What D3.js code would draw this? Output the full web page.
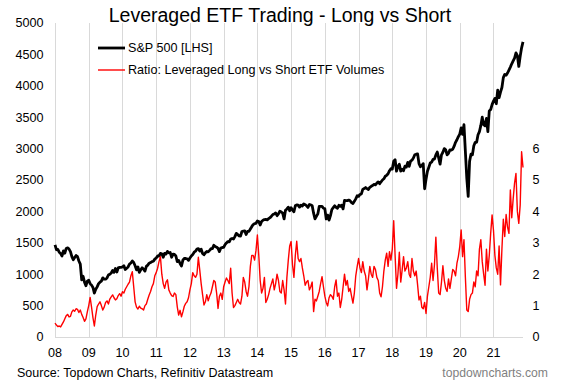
<!DOCTYPE html>
<html lang="en">
<head>
  <meta charset="UTF-8">
  <title>Leveraged ETF Trading - Long vs Short</title>
  <script src="https://d3js.org/d3.v7.min.js"></script>
  <style>
    body {
      margin: 0;
      background: white;
      font-family: "Liberation Sans", Arial, sans-serif;
    }
    svg { display: block; }
    .grid { stroke: #d9d9d9; stroke-width: 1; shape-rendering: crispEdges; }
    .tick-label { font-size: 12.6px; fill: #000; }
  </style>
</head>
<body>
  <svg id="chart"></svg>
  <script>
    // half-monthly readings, starting Jan 2008
    const startYear = 2008;
    const perYear = 24;

    const years = [2008, 2009, 2010, 2011, 2012, 2013, 2014, 2015, 2016, 2017, 2018, 2019, 2020, 2021];
    const yearLabels = ["08", "09", "10", "11", "12", "13", "14", "15", "16", "17", "18", "19", "20", "21"];
    const leftTicks = [0, 500, 1000, 1500, 2000, 2500, 3000, 3500, 4000, 4500, 5000];
    const rightTicks = [0, 1, 2, 3, 4, 5, 6];

    const spx = [
      1468,1390,1395,1350,1330,1290,1370,1335,1410,1420,1400,1360,1280,1230,1265,1298,1280,1210,1160,910,968,873,816,890,
      903,850,826,790,700,760,798,850,873,890,942,920,920,940,987,1000,1020,1060,1030,1090,1036,1100,1108,1110,
      1115,1136,1074,1095,1115,1160,1178,1210,1187,1135,1070,1115,1030,1070,1102,1080,1049,1125,1145,1175,1185,1200,1206,1240,
      1258,1290,1287,1330,1325,1270,1332,1320,1364,1340,1345,1270,1320,1315,1290,1200,1220,1170,1131,1225,1253,1250,1245,1220,
      1258,1290,1312,1350,1366,1400,1408,1370,1398,1330,1310,1340,1362,1355,1379,1405,1407,1460,1441,1430,1412,1360,1416,1425,
      1426,1470,1498,1520,1515,1560,1569,1560,1598,1650,1631,1610,1606,1680,1686,1690,1633,1680,1682,1720,1757,1790,1806,1810,
      1848,1840,1783,1840,1859,1870,1872,1865,1884,1900,1924,1950,1960,1975,1931,1960,2003,1990,1972,1880,2018,2040,2068,2010,
      2059,2020,1995,2090,2105,2100,2068,2100,2086,2120,2107,2090,2063,2110,2104,2090,1972,1880,1920,1960,2079,2080,2080,2050,
      2044,1880,1940,1860,1932,2030,2060,2090,2065,2050,2097,2080,2099,2040,2174,2170,2171,2180,2168,2140,2126,2160,2199,2250,
      2239,2270,2279,2350,2364,2380,2363,2350,2384,2400,2412,2430,2423,2450,2470,2440,2472,2500,2519,2560,2575,2600,2648,2680,
      2674,2800,2824,2640,2714,2750,2641,2670,2648,2720,2705,2780,2718,2800,2816,2850,2902,2910,2914,2760,2712,2730,2760,2360,
      2510,2640,2704,2770,2784,2830,2834,2900,2946,2850,2752,2900,2942,3000,2980,2900,2926,2980,2977,2990,3038,3100,3141,3190,
      3231,3330,3226,3380,2954,2530,2240,2800,2912,2900,3044,3100,3100,3220,3271,3370,3500,3380,3363,3480,3270,3600,3622,3700,
      3756,3800,3714,3930,3811,3900,3973,4130,4181,4170,4204,4250,4298,4350,4395,4440,4523,4480,4308,4470,4605,4700
    ];

    const ratio = [
      .44,.38,.33,.35,.32,.40,.48,.58,.68,.72,.64,.66,.80,.86,.82,.90,.88,.78,.86,.72,.62,.50,.58,.80,
      1.0,1.26,.95,.62,.35,.70,.97,1.05,1.12,1.0,.86,.95,1.10,1.15,1.05,1.21,1.28,1.34,1.25,1.18,1.22,1.32,1.38,1.30,
      1.44,1.40,1.52,1.60,1.68,1.75,1.95,2.08,1.60,1.12,.95,.89,.98,.92,.90,.86,1.0,1.05,1.20,1.34,1.45,1.60,1.70,1.95,
      2.05,2.19,2.40,2.56,2.0,1.70,1.55,1.75,1.82,1.50,1.40,1.32,1.29,1.40,1.35,.96,.70,.85,.64,.80,.98,1.07,1.12,1.25,
      1.50,1.70,2.05,1.95,1.90,2.0,2.54,2.13,1.70,1.35,1.02,1.12,1.35,1.15,1.30,1.40,1.60,1.80,1.75,1.40,.91,1.30,1.40,1.20,
      1.60,1.75,1.88,1.80,1.70,2.19,1.40,.94,1.00,1.10,1.20,1.10,1.05,1.30,1.90,1.75,1.45,1.30,1.60,2.25,2.60,2.60,2.45,2.75,
      3.25,2.60,1.80,1.40,1.55,1.90,1.10,1.20,1.35,1.55,1.70,1.85,1.50,1.70,2.00,1.80,1.45,1.40,1.80,1.50,1.05,1.90,2.45,2.90,
      3.04,2.30,1.90,2.60,3.05,2.50,2.40,2.50,2.20,1.95,1.65,1.75,1.80,1.50,1.60,1.75,.81,1.20,1.15,1.30,1.45,1.70,1.92,1.60,
      1.30,1.10,.99,1.25,1.35,1.30,1.20,1.60,1.82,1.30,1.40,.94,1.20,1.60,2.00,1.65,1.80,1.45,1.55,1.30,1.08,1.40,1.95,2.24,
      2.50,2.20,2.05,2.40,2.10,1.95,1.50,1.85,2.25,2.00,1.90,2.25,2.15,1.90,1.80,1.40,1.28,1.60,2.10,2.45,2.67,2.25,2.72,2.45,
      2.80,3.70,2.60,1.55,2.00,2.70,1.75,2.13,2.56,2.10,2.20,2.40,2.00,1.90,2.50,2.10,1.95,2.10,1.66,1.18,1.30,.95,.90,1.10,
      .75,1.30,1.60,1.90,2.35,1.80,2.30,3.18,2.20,1.40,1.35,1.75,2.27,1.80,1.55,1.45,1.85,1.55,1.85,2.15,2.10,1.95,2.35,2.56,
      2.88,3.41,2.56,3.10,1.90,.86,.81,1.20,1.35,1.40,1.75,1.60,2.10,1.95,2.80,3.10,2.40,2.00,1.65,2.80,2.10,2.60,3.30,3.89,
      3.40,2.60,2.20,2.00,2.90,1.66,2.80,3.75,3.20,3.90,3.50,3.30,4.68,3.80,4.40,4.90,5.21,4.00,3.62,4.20,5.90,5.40
    ];

    const width = 565;
    const height = 392;
    const margin = { top: 23, right: 42, bottom: 55, left: 55 };
    const bottomY = height - margin.bottom;

    const svg = d3.select("#chart")
      .attr("width", width)
      .attr("height", height);

    const dateOf = i => startYear + i / perYear;
    const lastDate = dateOf(Math.max(spx.length, ratio.length) - 1);

    const x = d3.scaleLinear().domain([startYear, lastDate]).range([margin.left, width - margin.right]);
    const yL = d3.scaleLinear().domain([0, 5000]).range([bottomY, margin.top]);
    const yR = d3.scaleLinear().domain([0, 10]).range([bottomY, margin.top]);

    // vertical gridlines
    svg.append("g").selectAll("line")
      .data(years)
      .join("line")
        .attr("class", "grid")
        .attr("x1", d => Math.round(x(d)) + 0.5)
        .attr("x2", d => Math.round(x(d)) + 0.5)
        .attr("y1", margin.top)
        .attr("y2", bottomY);

    svg.append("line")
      .attr("class", "grid")
      .attr("x1", x(startYear))
      .attr("x2", x(lastDate))
      .attr("y1", Math.round(bottomY) + 0.5)
      .attr("y2", Math.round(bottomY) + 0.5);

    // x labels
    svg.append("g").selectAll("text")
      .data(years)
      .join("text")
        .attr("class", "tick-label")
        .attr("x", d => x(d))
        .attr("y", bottomY + 20)
        .attr("text-anchor", "middle")
        .text((d, i) => yearLabels[i]);

    // left axis labels
    svg.append("g").selectAll("text")
      .data(leftTicks)
      .join("text")
        .attr("class", "tick-label")
        .attr("x", 43.5)
        .attr("y", d => yL(d))
        .attr("dy", "0.35em")
        .attr("text-anchor", "end")
        .text(d => d);

    // right axis labels
    svg.append("g").selectAll("text")
      .data(rightTicks)
      .join("text")
        .attr("class", "tick-label")
        .attr("x", 536)
        .attr("y", d => yR(d))
        .attr("dy", "0.35em")
        .attr("text-anchor", "middle")
        .text(d => d);

    const spxLine = d3.line().x((d, i) => x(dateOf(i))).y(d => yL(d));
    const ratioLine = d3.line().x((d, i) => x(dateOf(i))).y(d => yR(d));

    svg.append("path")
      .datum(spx)
      .attr("fill", "none")
      .attr("stroke", "#000")
      .attr("stroke-width", 2.8)
      .attr("stroke-linejoin", "round")
      .attr("d", spxLine);

    svg.append("path")
      .datum(ratio)
      .attr("fill", "none")
      .attr("stroke", "#ff0000")
      .attr("stroke-width", 1.4)
      .attr("stroke-linejoin", "round")
      .attr("d", ratioLine);

    // title
    svg.append("text")
      .attr("x", 280)
      .attr("y", 22)
      .attr("text-anchor", "middle")
      .style("font-size", "19.5px")
      .text("Leveraged ETF Trading - Long vs Short");

    // legend
    const legend = [
      { label: "S&P 500 [LHS]", color: "#000", w: 2.8, y: 48 },
      { label: "Ratio: Leveraged Long vs Short ETF Volumes", color: "#ff0000", w: 1.4, y: 70 }
    ];
    const lg = svg.append("g").selectAll("g").data(legend).join("g");
    lg.append("line")
      .attr("x1", 98).attr("x2", 125)
      .attr("y1", d => d.y).attr("y2", d => d.y)
      .attr("stroke", d => d.color)
      .attr("stroke-width", d => d.w);
    lg.append("text")
      .attr("x", 128)
      .attr("y", d => d.y)
      .attr("dy", "0.35em")
      .style("font-size", "12.6px")
      .text(d => d.label);

    // footer
    svg.append("text")
      .attr("x", 17)
      .attr("y", 377)
      .style("font-size", "12.5px")
      .text("Source: Topdown Charts, Refinitiv Datastream");

    svg.append("text")
      .attr("x", 548)
      .attr("y", 377)
      .attr("text-anchor", "end")
      .style("font-size", "12.2px")
      .style("fill", "#7f7f7f")
      .text("topdowncharts.com");
  </script>
</body>
</html>
